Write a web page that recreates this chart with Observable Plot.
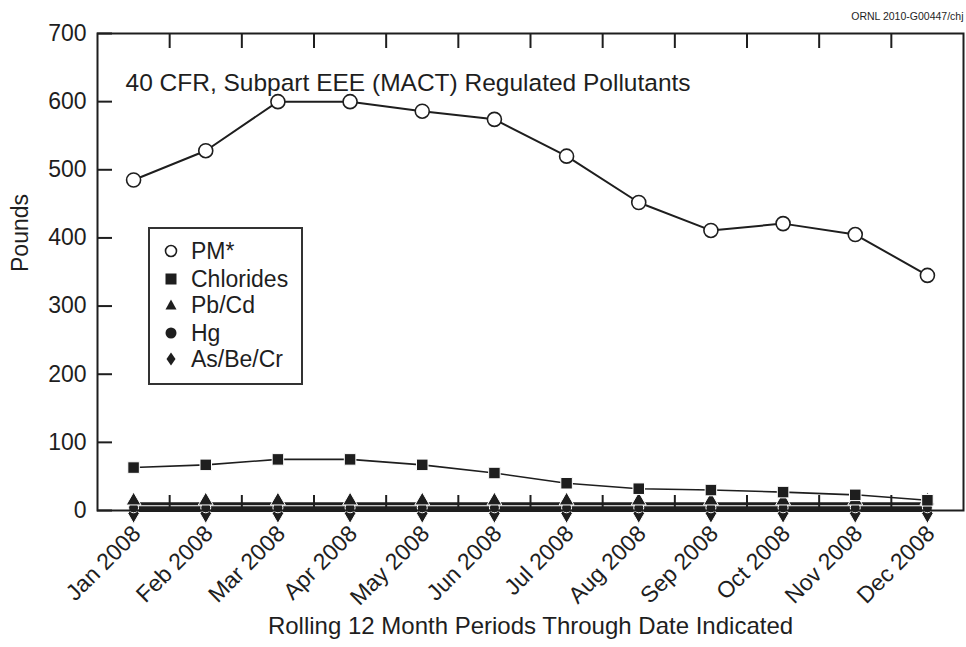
<!DOCTYPE html>
<html><head><meta charset="utf-8">
<script src="https://cdn.jsdelivr.net/npm/d3@7"></script>
<script src="https://cdn.jsdelivr.net/npm/@observablehq/plot@0.6"></script>
<style>
body{margin:0;background:#fff;}
#wrap{position:relative;width:966px;height:647px;font-family:"Liberation Sans",Arial,sans-serif;color:#1e1e1e;}
#legend{position:absolute;left:148px;top:227px;width:155px;height:158px;border:2px solid #333;box-sizing:border-box;background:#fff;}
.row{position:absolute;left:14px;font-size:23px;line-height:24px;height:24px;display:flex;align-items:center;white-space:nowrap;}
.row svg{margin-right:13px;}
</style>
</head><body>
<div id="wrap"><div id="chart"></div><div id="legend"></div></div>
<script>
const months = ["Jan 2008","Feb 2008","Mar 2008","Apr 2008","May 2008","Jun 2008","Jul 2008","Aug 2008","Sep 2008","Oct 2008","Nov 2008","Dec 2008"];
const pm = [485, 528, 600, 600, 586, 574, 520, 452, 411, 421, 405, 345];
const chlorides = [63, 67, 75, 75, 67, 55, 40, 32, 30, 27, 23, 15];
const pbcd = [10, 10, 10, 10, 10, 10, 10, 10, 10, 10, 10, 10];
const hg = [4, 4, 4, 4, 4, 4, 4, 4, 4, 4, 4, 4];
const asbecr = [0, 0, 0, 0, 0, 0, 0, 0, 0, 0, 0, 0];
const yTicks = [0,100,200,300,400,500,600,700];
const seriesNames = ["PM*","Chlorides","Pb/Cd","Hg","As/Be/Cr"];

const ink = "#1e1e1e";
const idx = d3.range(months.length);
const rows = (vals) => idx.map(i => ({i, v: vals[i]}));
const xBounds = d3.range(0.5, months.length - 1, 1);
const W = 966, H = 647, mL = 97, mR = 3, mT = 33, mB = 137;
const fw = W - mL - mR, fh = H - mT - mB;
const FS = 23;

const chart = Plot.plot({
  width: W, height: H,
  marginLeft: mL, marginRight: mR, marginTop: mT, marginBottom: mB,
  x: {domain: [-0.5, months.length - 0.5]},
  y: {domain: [0, 700]},
  style: {fontFamily: '"Liberation Sans", Arial, sans-serif', fontSize: FS + "px", color: ink, background: "#fff", overflow: "visible"},
  marks: [
    Plot.line(rows(asbecr), {x: "i", y: "v", stroke: ink, strokeWidth: 3}),
    Plot.line(rows(hg), {x: "i", y: "v", stroke: ink, strokeWidth: 3}),
    Plot.line(rows(pbcd), {x: "i", y: "v", stroke: ink, strokeWidth: 3}),
    Plot.line(rows(chlorides), {x: "i", y: "v", stroke: ink, strokeWidth: 1.6}),
    Plot.line(rows(pm), {x: "i", y: "v", stroke: ink, strokeWidth: 2}),
    Plot.dot(rows(asbecr), {x: "i", y: "v", dy: 3, symbol: "diamond", r: 6, fill: ink, stroke: "#fff", strokeWidth: 1}),
    Plot.dot(rows(hg), {x: "i", y: "v", symbol: "circle", r: 5, fill: ink, stroke: "#fff", strokeWidth: 1}),
    Plot.dot(rows(pbcd), {x: "i", y: "v", dy: -3, symbol: "triangle", r: 5.5, fill: ink, stroke: "#fff", strokeWidth: 1}),
    Plot.dot(rows(chlorides), {x: "i", y: "v", symbol: "square", r: 6.5, fill: ink, stroke: "#fff", strokeWidth: 1}),
    Plot.dot(rows(pm), {x: "i", y: "v", symbol: "circle", r: 7, fill: "#fff", stroke: ink, strokeWidth: 1.6}),
    Plot.frame({stroke: ink, strokeWidth: 2}),
    Plot.tickY(yTicks, {y: d => d, stroke: ink, strokeWidth: 2, insetRight: fw - 15}),
    Plot.tickX(xBounds, {x: d => d, stroke: ink, strokeWidth: 2, insetTop: fh - 15}),
    Plot.tickX(xBounds, {x: d => d, stroke: ink, strokeWidth: 2, insetBottom: fh - 15}),
    Plot.axisY(yTicks, {anchor: "left", tickSize: 0, tickPadding: 11, fontSize: FS, label: null}),
    Plot.axisX(idx, {anchor: "bottom", tickSize: 0, text: null, label: null}),
    Plot.text(idx, {x: d => d, frameAnchor: "bottom", text: d => months[d], rotate: -45, textAnchor: "end", lineAnchor: "top", dx: -3, dy: 13, fontSize: FS}),
    Plot.text(["Rolling 12 Month Periods Through Date Indicated"], {frameAnchor: "bottom", dy: 123, fontSize: 24}),
    Plot.text(["Pounds"], {frameAnchor: "left", dx: -77, rotate: -90, fontSize: 23}),
    Plot.text(["40 CFR, Subpart EEE (MACT) Regulated Pollutants"], {frameAnchor: "top-left", dx: 28, dy: 40, textAnchor: "start", fontSize: 24.5}),
    Plot.text(["ORNL 2010-G00447/chj"], {frameAnchor: "top-right", dy: -21, textAnchor: "end", fontSize: 10.5})
  ]
});
document.getElementById("chart").appendChild(chart);

const shapes = {
  "PM*": '<circle cx="7" cy="7" r="5.5" fill="#fff" stroke="#1e1e1e" stroke-width="1.6"/>',
  "Chlorides": '<rect x="1.5" y="1.5" width="11" height="11" fill="#1e1e1e"/>',
  "Pb/Cd": '<path d="M7,1.5 L12.5,11.5 L1.5,11.5 Z" fill="#1e1e1e"/>',
  "Hg": '<circle cx="7" cy="7" r="5.5" fill="#1e1e1e"/>',
  "As/Be/Cr": '<path d="M7,0.5 L11.5,7 L7,13.5 L2.5,7 Z" fill="#1e1e1e"/>'
};
const leg = document.getElementById("legend");
const centers = [24, 52, 78, 106, 132];
seriesNames.forEach((n, k) => {
  const r = document.createElement("div");
  r.className = "row";
  r.style.top = (centers[k] - 2 - 12) + "px";
  r.innerHTML = `<svg width="14" height="14">${shapes[n]}</svg><span>${n}</span>`;
  leg.appendChild(r);
});
</script>
</body></html>
